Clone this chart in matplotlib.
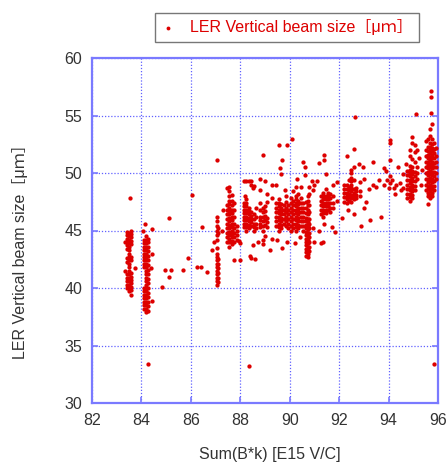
import numpy as np
import matplotlib
matplotlib.use("Agg")
import matplotlib.pyplot as plt

# ---------------- data ----------------
# Each group: x values and y values of the points (Sum(B*k), beam size)
grp_a_x = [83.40]*13 + [83.48]*18 + [83.56]*14 + [83.55, 83.74, 83.33, 83.35]
grp_a_y = [40.0,40.3,40.6,40.9,41.2,42.3,42.6,43.4,43.7,44.0,44.3,44.6,44.9,
           39.7,40.0,40.3,40.6,40.9,41.2,41.5,41.8,42.1,42.4,42.7,43.0,43.3,43.6,43.9,44.2,44.5,44.8,
           39.4,39.8,40.1,40.4,40.7,41.0,41.3,42.4,42.7,43.8,44.1,44.4,44.7,45.0,
           47.8,41.7,41.5,44.0]

grp_b_x = [84.10]*16 + [84.18]*23 + [84.26]*17 + [84.15,84.43,84.43,84.43,84.27,84.40,84.05]
grp_b_y = [38.2,38.5,38.8,39.1,39.4,39.7,40.0,41.8,42.1,42.4,42.7,43.0,43.3,43.6,43.9,44.2,
           37.9,38.2,38.5,38.8,39.1,39.4,39.7,40.0,40.3,40.6,40.9,41.2,41.5,41.8,42.1,42.4,42.7,43.0,43.3,43.6,43.9,44.2,44.5,
           38.0,38.4,38.8,39.2,39.6,40.0,40.4,40.8,41.2,41.6,42.0,42.4,42.8,43.2,43.6,44.0,44.3,
           45.6,45.1,43.0,38.9,33.4,41.7,45.0]

mid_x = [84.83,84.95,85.20,85.10,85.10,85.70,85.90,86.05,86.25,86.40,86.45,86.65,86.85,87.05]
mid_y = [40.1,41.6,41.6,41.0,46.1,41.6,42.6,48.1,41.8,41.8,45.3,41.4,43.3,51.1]

grp_c_x = [87.04]*17 + [87.10]*8 + [86.95]
grp_c_y = [40.3,40.6,40.9,41.2,41.5,41.8,42.1,42.4,42.7,43.0,43.5,44.2,44.6,45.0,45.4,45.8,46.2,
           40.5,40.9,41.3,41.7,42.1,42.5,44.8,45.2,
           44.0]

grp_d_x = ([87.45]*10 + [87.55]*17 + [87.65]*14 + [87.75]*8 + [87.85]*4
           + [87.30,87.25,87.95,87.75,88.00,88.45,88.00])
grp_d_y = [44.0,44.4,44.8,45.2,45.6,46.0,46.4,46.8,47.2,48.7,
           43.6,44.0,44.3,44.6,44.9,45.2,45.5,45.8,46.1,46.4,46.7,47.0,47.3,47.6,48.0,48.4,48.8,
           43.8,44.1,44.4,44.7,45.0,45.3,45.6,45.9,46.2,46.5,46.8,47.2,47.6,48.1,
           44.0,44.4,44.8,45.2,45.6,46.2,46.8,47.4,
           44.2,44.6,45.0,45.4,
           46.8,45.0,44.1,42.4,42.4,42.6,43.9]

grp_e_x = ([88.15]*9 + [88.25]*11 + [88.35]*8 + [88.45]*7 + [88.55]*6 + [88.65]*4
           + [88.35,88.50,88.20])
grp_e_y = [45.3,45.6,45.9,46.2,46.5,46.8,47.1,47.4,49.3,
           45.0,45.3,45.6,45.9,46.2,46.5,46.8,47.1,47.4,47.7,49.3,
           45.2,45.5,45.8,46.1,46.4,46.7,47.0,49.3,
           45.4,45.7,46.0,46.3,46.6,49.3,49.0,
           45.0,45.3,45.6,46.0,46.4,48.9,
           45.2,45.6,46.2,47.0,
           33.2,48.7,48.0]

grp_f_x = ([88.80]*7 + [88.90]*7 + [89.00]*6 + [89.10]*5
           + [88.70,88.90,89.20,89.30,88.50,89.00,88.80,89.30,88.60,88.40])
grp_f_y = [45.3,45.6,45.9,46.2,46.8,47.4,48.5,
           45.0,45.4,45.8,46.2,46.6,47.0,44.2,
           45.5,45.9,46.3,46.7,47.1,44.5,
           45.3,45.7,46.1,47.5,48.2,
           44.0,43.8,43.3,44.3,43.7,49.3,49.5,49.0,42.5,42.8]

grp_g_x = ([89.45]*6 + [89.55]*10 + [89.65]*8 + [89.75]*5 + [89.85]*7 + [89.95]*6 + [90.05]*8
           + [89.55,89.90,90.10,88.90,89.70,89.60,89.65,89.45,89.80,89.30,89.50,89.70,89.90])
grp_g_y = [45.4,45.8,46.2,46.6,47.0,47.4,
           45.0,45.3,45.6,45.9,46.2,46.5,46.8,47.1,47.4,47.7,
           45.2,45.5,45.8,46.1,46.4,46.7,47.0,47.3,
           45.6,46.0,46.4,46.8,47.2,
           45.4,45.8,46.2,46.6,47.0,47.5,48.0,
           45.2,45.6,46.0,46.4,46.8,47.2,
           45.0,45.4,45.8,46.2,46.6,47.0,47.4,47.8,
           52.4,52.4,53.0,51.6,51.1,50.4,49.9,49.0,48.5,47.8,44.2,43.5,44.0]

grp_h_x = ([90.15]*8 + [90.25]*12 + [90.35]*10 + [90.45]*8 + [90.55]*7
           + [90.65]*15 + [90.73]*17 + [90.80]*12
           + [90.90,91.00,90.95,90.30,90.60,90.95,91.00,91.25,90.40,90.20,90.60,90.55])
grp_h_y = [45.2,45.6,46.0,46.4,46.8,47.2,47.6,48.4,
           45.0,45.3,45.6,45.9,46.2,46.5,46.8,47.1,47.4,47.7,48.0,48.8,
           45.2,45.5,45.8,46.1,46.4,46.7,47.0,47.3,47.6,48.2,
           45.4,45.8,46.2,46.6,47.0,47.4,47.8,48.8,
           45.0,45.4,45.8,46.2,46.6,47.0,47.4,
           42.8,43.1,43.4,43.7,44.0,44.3,44.6,44.9,45.2,45.5,45.8,46.1,46.5,47.0,47.5,
           42.7,43.0,43.3,43.6,43.9,44.2,44.5,44.8,45.1,45.4,45.7,46.0,46.4,46.8,47.2,47.6,48.0,
           43.2,43.6,44.0,44.4,44.8,45.2,45.6,46.0,46.6,47.2,48.2,48.8,
           49.3,49.0,48.5,49.5,49.8,45.2,44.0,43.9,44.4,43.9,50.5,51.0]

grp_i_x = ([91.25]*5 + [91.35]*8 + [91.45]*8 + [91.55]*6 + [91.65]*5 + [91.75]*4
           + [91.40,91.40,91.20,91.10,91.90,91.85,91.40,91.35,92.10,91.90,91.20,91.70])
grp_i_y = [46.4,46.8,47.2,47.6,48.0,
           46.2,46.5,46.8,47.1,47.4,47.7,48.0,48.3,
           46.5,46.8,47.1,47.4,47.7,48.0,48.6,49.9,
           46.8,47.1,47.4,47.7,48.0,48.3,
           46.6,47.0,47.4,47.8,48.2,
           47.0,47.4,48.0,49.0,
           51.6,51.1,50.9,49.3,49.2,44.9,45.6,44.0,46.1,47.6,45.0,45.3]

grp_j_x = ([92.20]*5 + [92.30]*7 + [92.40]*6 + [92.50]*10 + [92.60]*7 + [92.70]*4 + [92.85]*3
           + [92.65,93.25,93.70,92.90,92.35,92.60,93.00,93.10,93.35,93.80,93.35,93.20,93.50,93.60,
              93.80,93.00,92.95,92.80])
grp_j_y = [47.5,47.9,48.3,48.6,49.0,
           47.4,47.7,48.0,48.3,48.6,49.0,51.5,
           47.6,47.9,48.2,48.5,48.8,49.4,
           47.5,47.8,48.1,48.4,48.7,49.0,49.3,49.6,50.0,50.3,
           47.7,48.0,48.3,48.6,52.1,50.5,49.4,
           47.8,48.1,48.4,48.7,
           48.0,48.4,49.2,
           54.9,45.9,46.2,45.4,46.8,46.4,47.0,47.5,51.0,50.4,49.0,48.6,48.8,49.4,
           49.0,49.5,50.5,50.8]

grp_k_x = [93.95,94.05,94.15,94.05,94.00,94.20,94.05,94.05,94.05,93.90,94.30,94.45,94.50,94.60,
           94.25,94.40]
grp_k_y = [49.4,49.7,49.4,49.1,48.7,48.7,52.9,52.6,51.1,50.2,49.0,49.1,48.5,48.7,48.2,50.5]

grp_l_x = ([94.75]*7 + [94.85]*13 + [94.95]*13 + [95.05]*8 + [95.15]*4
           + [95.10,94.70,95.25,95.30,95.35,94.60])
grp_l_y = [47.8,48.2,48.6,49.0,49.4,49.8,50.2,
           47.6,47.9,48.2,48.5,48.8,49.1,49.4,49.7,50.0,50.3,50.6,51.5,52.0,
           47.8,48.1,48.4,48.7,49.0,49.3,49.6,49.9,50.2,50.5,51.2,52.6,53.1,
           48.5,48.9,49.3,49.7,50.1,51.0,51.8,52.4,
           49.5,50.0,50.5,52.0,
           55.1,50.8,51.3,49.0,50.3,49.9]

grp_m_x = ([95.50]*9 + [95.58]*16 + [95.66]*19 + [95.74]*18 + [95.82]*11 + [95.90]*6
           + [95.70,95.70,95.70,95.85,95.60])
grp_m_y = [48.5,49.0,49.5,50.0,50.5,51.0,51.5,52.0,52.8,
           48.0,48.3,48.6,48.9,49.2,49.5,49.8,50.1,50.4,50.7,51.0,51.3,51.6,51.9,52.3,53.0,
           47.8,48.1,48.4,48.7,49.0,49.3,49.6,49.9,50.2,50.5,50.8,51.1,51.4,51.7,52.0,52.3,52.6,53.2,53.8,
           48.0,48.3,48.6,48.9,49.2,49.5,49.8,50.1,50.4,50.7,51.0,51.3,51.6,51.9,52.2,52.5,53.0,54.3,
           48.5,48.9,49.3,49.7,50.1,50.5,50.9,51.3,51.7,52.1,52.6,
           49.5,50.0,50.5,51.0,51.5,52.2,
           57.1,56.6,55.2,33.4,47.3]

x_ticks = [82, 84, 86, 88, 90, 92, 94, 96]
y_ticks = [30, 35, 40, 45, 50, 55, 60]

series_label = "LER Vertical beam size［μｍ］"
x_label = "Sum(B*k) [E15 V/C]"
y_label = "LER Vertical beam size［μｍ］"

# ---------------- plotting ----------------
all_x = (grp_a_x + grp_b_x + mid_x + grp_c_x + grp_d_x + grp_e_x + grp_f_x + grp_g_x
         + grp_h_x + grp_i_x + grp_j_x + grp_k_x + grp_l_x + grp_m_x)
all_y = (grp_a_y + grp_b_y + mid_y + grp_c_y + grp_d_y + grp_e_y + grp_f_y + grp_g_y
         + grp_h_y + grp_i_y + grp_j_y + grp_k_y + grp_l_y + grp_m_y)

plt.rcParams['font.family'] = ['Liberation Sans', 'Noto Sans CJK JP', 'DejaVu Sans']

W, H = 448, 463
fig = plt.figure(figsize=(W / 100, H / 100), dpi=100)
ax = fig.add_axes([92 / W, 1 - 403 / H, (438 - 92) / W, (403 - 58) / H])

red = '#dd0000'
blue = '#7a7aff'
ax.scatter(all_x, all_y, s=9.5, c=red, marker='o', linewidths=0, label=series_label, zorder=3)

ax.set_xlim(82, 96)
ax.set_ylim(30, 60)
ax.set_xticks(x_ticks)
ax.set_yticks(y_ticks)
ax.grid(True, color='#6060ff', linestyle=(0, (1, 1.5)), linewidth=0.9)
for sp in ax.spines.values():
    sp.set_color(blue)
    sp.set_linewidth(1.6)
ax.tick_params(direction='in', length=4, width=1.2, color=blue,
               labelsize=11.5, labelcolor='#333333', pad=7, right=True, top=False)

fig.text(270 / W, 1 - 455 / H, x_label, ha='center', va='center', fontsize=11.5, color='#333333')
fig.text(20 / W, 1 - 248 / H, y_label, ha='center', va='center', rotation=90, fontsize=11.5,
         color='#333333')

leg = fig.legend(loc='upper right', bbox_to_anchor=(419 / W, 1 - 13 / H), borderaxespad=0,
                 fancybox=False, edgecolor='#555555', frameon=True, fontsize=11.5,
                 markerscale=0.9, handlelength=0.8, handletextpad=1.0, borderpad=0.4,
                 labelcolor=red)
leg.get_frame().set_linewidth(1.0)

fig.savefig('out.png', dpi=100)
